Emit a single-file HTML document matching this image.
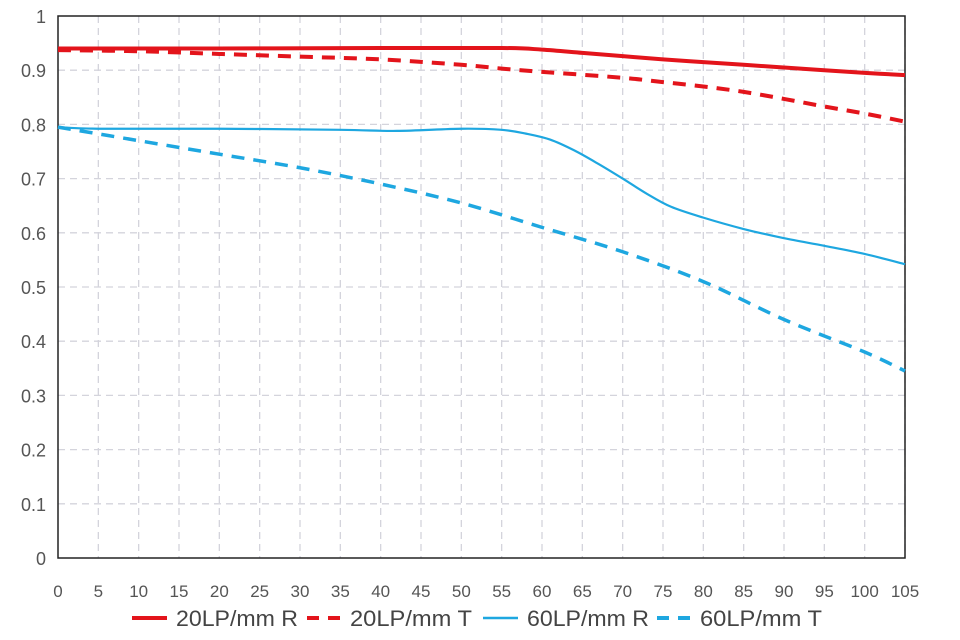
<!DOCTYPE html>
<html><head><meta charset="utf-8"><style>
body{margin:0;background:#fff;}
svg{display:block;font-family:"Liberation Sans",sans-serif;}
</style></head><body>
<svg id="s" width="960" height="640" xmlns="http://www.w3.org/2000/svg"></svg>
<script>
var s=document.getElementById('s'),h='';
function X(v){return 58+v*847/105}
function Y(v){return 558-v*542}
for(var i=1;i<=21;i++){var x=X(i*5);h+='<line x1="'+x+'" y1="16" x2="'+x+'" y2="558" stroke="#d4d4dc" stroke-width="1.3" stroke-dasharray="7,5"/>';}
for(var j=1;j<=9;j++){var y=Y(j/10);h+='<line x1="58" y1="'+y+'" x2="905" y2="'+y+'" stroke="#d4d4dc" stroke-width="1.3" stroke-dasharray="7,5"/>';}
h+='<rect x="58" y="16" width="847" height="542" fill="none" stroke="#222" stroke-width="1.5"/>';
for(var j=0;j<=10;j++){var l=j==0?'0':j==10?'1':'0.'+j;h+='<text x="46" y="'+(Y(j/10)+7)+'" text-anchor="end" font-size="18" fill="#555">'+l+'</text>';}
for(var i=0;i<=21;i++){h+='<text x="'+X(i*5)+'" y="597" text-anchor="middle" font-size="17" fill="#555">'+(i*5)+'</text>';}
function path(pts,col,w,dash){var P=pts.map(function(q){return [X(q[0]),Y(q[1])]});var d='M'+P[0];
for(var k=0;k<P.length-1;k++){var p0=P[k>0?k-1:0],p1=P[k],p2=P[k+1],p3=P[k+2<P.length?k+2:k+1];
var c1=[p1[0]+(p2[0]-p0[0])/6,p1[1]+(p2[1]-p0[1])/6],c2=[p2[0]-(p3[0]-p1[0])/6,p2[1]-(p3[1]-p1[1])/6];d+=' C'+c1+' '+c2+' '+p2;}
h+='<path d="'+d+'" fill="none" stroke="'+col+'" stroke-width="'+w+'" stroke-linejoin="round"'+(dash?' stroke-dasharray="'+dash+'"':'')+'/>';}
path([[0,.94],[20,.94],[40,.941],[55,.941],[60,.938],[65,.932],[70,.926],[75,.92],[80,.915],[85,.91],[90,.905],[95,.9],[100,.895],[105,.891]],'#e3141b',4);
path([[0,.937],[10,.935],[20,.93],[30,.925],[40,.92],[50,.91],[55,.903],[60,.897],[70,.886],[75,.878],[80,.87],[85,.86],[90,.847],[95,.833],[100,.82],[105,.805]],'#e3141b',4,'13,9');
path([[0,.795],[5,.792],[20,.792],[35,.79],[42,.788],[50,.792],[55,.79],[58,.783],[61,.772],[64,.752],[67,.727],[70,.7],[73,.672],[76,.648],[80,.628],[85,.607],[90,.59],[95,.576],[100,.561],[105,.542]],'#1ea7e0',2.2);
path([[0,.795],[10,.77],[20,.745],[30,.72],[40,.69],[50,.655],[60,.61],[70,.565],[80,.51],[90,.44],[100,.38],[105,.345]],'#1ea7e0',3.5,'13,9');
var ly=626,st='font-size="22" fill="#444" textLength="122" lengthAdjust="spacingAndGlyphs"';
h+='<line x1="132" y1="'+(ly-8)+'" x2="167" y2="'+(ly-8)+'" stroke="#e3141b" stroke-width="4"/><text x="176" y="'+ly+'" '+st+'>20LP/mm R</text>';
h+='<line x1="307" y1="'+(ly-8)+'" x2="340" y2="'+(ly-8)+'" stroke="#e3141b" stroke-width="4" stroke-dasharray="12,9"/><text x="350" y="'+ly+'" '+st+'>20LP/mm T</text>';
h+='<line x1="483" y1="'+(ly-8)+'" x2="518" y2="'+(ly-8)+'" stroke="#1ea7e0" stroke-width="2.5"/><text x="527" y="'+ly+'" '+st+'>60LP/mm R</text>';
h+='<line x1="657" y1="'+(ly-8)+'" x2="690" y2="'+(ly-8)+'" stroke="#1ea7e0" stroke-width="4" stroke-dasharray="12,9"/><text x="700" y="'+ly+'" '+st+'>60LP/mm T</text>';
s.innerHTML=h;
</script>
</body></html>
